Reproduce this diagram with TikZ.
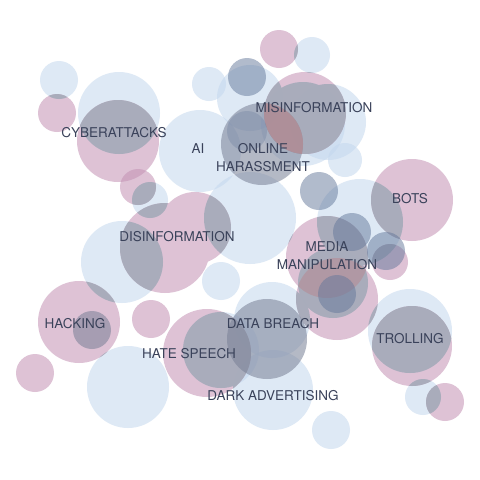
\documentclass[tikz,border=0pt]{standalone}
\usepackage{fontspec}
\setmainfont{TeX Gyre Heros}
\usepackage{xcolor}
\usepackage{tikz}

\definecolor{bubblue}{RGB}{195,215,238}
\definecolor{bubmauve}{RGB}{195,145,180}
\definecolor{bubgrey}{RGB}{120,128,150}
\definecolor{bubslate}{RGB}{100,120,155}
\definecolor{lensgrey}{RGB}{163,171,184}
\definecolor{lensrose}{RGB}{182,142,150}
\definecolor{labelink}{RGB}{58,66,90}

% x / y / radius of each bubble, in pixels
\newcommand\bluebubbles{59/80/19, 119/113/41, 150/200/18, 200/151/41, 209/84/17,
  250/98/33, 312/55/18, 303/124/42, 328/122/38, 345/160/17, 122/262/41,
  250/218/46, 221/281/19, 360/222/43, 333/283/35, 128/387/41, 272/320/38,
  221/350/38, 273/390/40, 331/430/19, 410/331/42, 423/397/18}
\newcommand\mauvebubbles{57/113/19, 118/141/41, 138/187/18, 279/49/19,
  305/113/41, 79/322/41, 151/319/19, 35/373/19,
  207/353/44, 412/200/41, 327/257/41, 337/299/41, 390/262/18, 412/346/40,
  445/402/19}
\newcommand\greybubbles{262/144/41, 267/339/40, 92/330/19}
\newcommand\slatebubbles{247/77/19, 319/191/19, 352/232/19,
  386/251/19, 337/294/19}

\begin{document}
\begin{tikzpicture}[
  x=1pt, y=-1pt,
  bblue/.style ={fill=bubblue,fill opacity=0.55},
  bmauve/.style={fill=bubmauve,fill opacity=0.55},
  bgrey/.style ={fill=bubgrey,fill opacity=0.55},
  bslate/.style={fill=bubslate,fill opacity=0.5},
  lbl/.style   ={font=\fontsize{13.5}{18}\selectfont,text=labelink,
                 align=center,inner sep=0pt}]

\useasboundingbox (0,0) rectangle (480,480);
\fill[white] (0,0) rectangle (480,480);

% ---------- bubbles ----------
\foreach \bx/\by/\br in \bluebubbles {\fill[bblue] (\bx,\by) circle (\br pt);}
\foreach \bx/\by/\br in \mauvebubbles {\fill[bmauve] (\bx,\by) circle (\br pt);}
\fill[bmauve] (165,248) circle (45pt) (195,228) circle (36pt);

% blue over mauve turns grey
\begin{scope}
\clip \foreach \bx/\by/\br in \bluebubbles {(\bx,\by) circle (\br pt)};
\fill[lensgrey,fill opacity=0.85]
  \foreach \bx/\by/\br in \mauvebubbles {(\bx,\by) circle (\br pt)}
  (165,248) circle (45pt) (195,228) circle (36pt);
\end{scope}

\foreach \bx/\by/\br in \greybubbles {\fill[bgrey] (\bx,\by) circle (\br pt);}

% reddish overlaps
\begin{scope}
\clip (262,144) circle (41pt);
\fill[lensrose,fill opacity=0.8] (305,113) circle (41pt);
\end{scope}
\begin{scope}
\clip (327,257) circle (41pt);
\fill[lensrose,fill opacity=0.6] (337,299) circle (41pt);
\end{scope}

\foreach \bx/\by/\br in \slatebubbles {\fill[bslate] (\bx,\by) circle (\br pt);}
\fill[bslate,fill opacity=0.3] (247,131) circle (20pt);

% ---------- labels ----------
\node[lbl] (cyber)    at (114,133) {CYBERATTACKS};
\node[lbl] (ai)       at (198,149) {AI};
\node[lbl] (harass)   at (263,158) {ONLINE\\HARASSMENT};
\node[lbl] (misinfo)  at (314,108) {MISINFORMATION};
\node[lbl] (bots)     at (410,199) {BOTS};
\node[lbl] (disinfo)  at (177,237) {DISINFORMATION};
\node[lbl] (media)    at (327,256) {MEDIA\\MANIPULATION};
\node[lbl] (hacking)  at (75,324)  {HACKING};
\node[lbl] (hate)     at (189,354) {HATE SPEECH};
\node[lbl] (breach)   at (273,324) {DATA BREACH};
\node[lbl] (darkad)   at (273,396) {DARK ADVERTISING};
\node[lbl] (trolling) at (410,339) {TROLLING};

\end{tikzpicture}
\end{document}
